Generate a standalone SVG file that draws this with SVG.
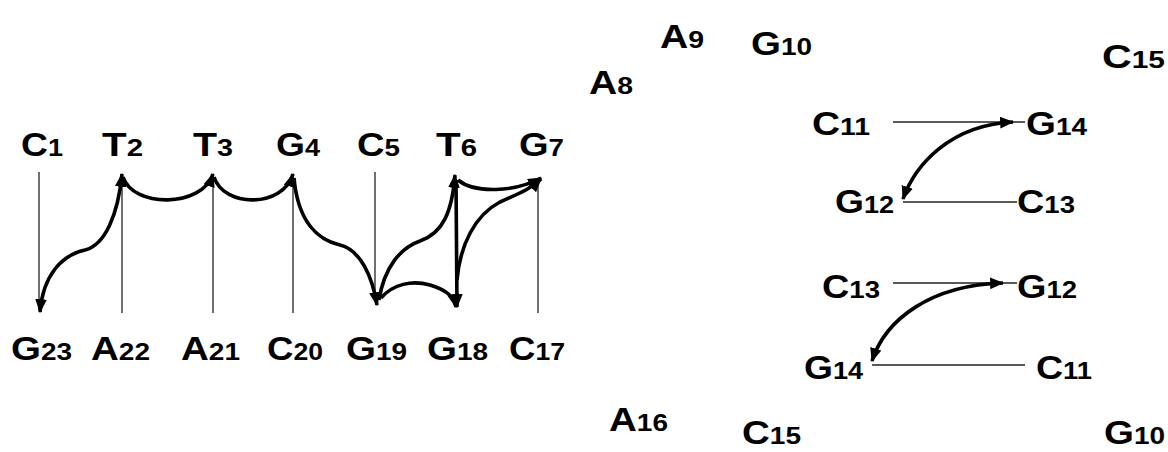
<svg xmlns="http://www.w3.org/2000/svg" width="1168" height="452" viewBox="0 0 1168 452">
<style>
text{font-family:"Liberation Sans",Arial,sans-serif;font-weight:bold;font-size:33px;fill:#000}
.s{font-size:24px}
.thin{fill:none;stroke:#222;stroke-width:1.3}
.thick{fill:none;stroke:#000;stroke-width:3.6}
</style>
<defs>
<marker id="ah" viewBox="0 0 12 10" refX="11" refY="5" markerWidth="14" markerHeight="12" orient="auto-start-reverse" markerUnits="userSpaceOnUse"><path d="M0,0 L12,5 L0,10 z" fill="#000"/></marker>
</defs>
<rect width="1168" height="452" fill="#fff"/>
<g id="connectors">
<line class="thin" x1="39" y1="172" x2="39" y2="310"/>
<line class="thin" x1="122" y1="176" x2="122" y2="313"/>
<line class="thin" x1="213" y1="176" x2="213" y2="313"/>
<line class="thin" x1="293" y1="176" x2="293" y2="313"/>
<line class="thin" x1="375" y1="172" x2="375" y2="300"/>
<line class="thin" x1="538" y1="178" x2="538" y2="313"/>
<path class="thick" marker-start="url(#ah)" marker-end="url(#ah)" d="M40,312 C43,275 62,255 85,250 C105,245 118,215 122,174"/>
<path class="thick" marker-end="url(#ah)" d="M123,177 C133,208 202,208 213,174"/>
<path class="thick" marker-end="url(#ah)" d="M214,177 C224,208 283,208 293,174"/>
<path class="thick" marker-end="url(#ah)" d="M294,178 C298,222 318,240 340,245 C360,250 372,275 377,305"/>
<path class="thick" marker-end="url(#ah)" d="M379,300 C384,268 400,248 420,241 C443,233 452,212 455,175"/>
<path class="thick" marker-end="url(#ah)" d="M381,298 C393,284 412,280 430,285 C443,289 453,294 456,307"/>
<path class="thick" marker-end="url(#ah)" d="M456,180 L457,307"/>
<path class="thick" marker-end="url(#ah)" d="M458,180 C475,194 515,192 541,178"/>
<path class="thick" marker-end="url(#ah)" d="M457,280 C460,245 475,215 500,202 C515,195 530,190 541,179"/>
<line class="thin" x1="893" y1="122" x2="1025" y2="122"/>
<path class="thick" marker-start="url(#ah)" marker-end="url(#ah)" d="M903,199 C915,165 950,125 1013,122"/>
<line class="thin" x1="903" y1="202" x2="1017" y2="202"/>
<line class="thin" x1="893" y1="283" x2="1017" y2="283"/>
<path class="thick" marker-start="url(#ah)" marker-end="url(#ah)" d="M872,361 C885,320 930,285 1003,283"/>
<line class="thin" x1="872" y1="365" x2="1025" y2="365"/>
</g>
<g id="C1"><text x="21" y="156" textLength="42" lengthAdjust="spacingAndGlyphs">C<tspan class="s">1</tspan></text></g>
<g id="T2"><text x="102" y="156" textLength="41" lengthAdjust="spacingAndGlyphs">T<tspan class="s">2</tspan></text></g>
<g id="T3"><text x="193" y="156" textLength="40" lengthAdjust="spacingAndGlyphs">T<tspan class="s">3</tspan></text></g>
<g id="G4"><text x="276" y="156" textLength="44" lengthAdjust="spacingAndGlyphs">G<tspan class="s">4</tspan></text></g>
<g id="C5"><text x="357" y="156" textLength="43" lengthAdjust="spacingAndGlyphs">C<tspan class="s">5</tspan></text></g>
<g id="T6"><text x="436" y="156" textLength="41" lengthAdjust="spacingAndGlyphs">T<tspan class="s">6</tspan></text></g>
<g id="G7"><text x="519" y="156" textLength="45" lengthAdjust="spacingAndGlyphs">G<tspan class="s">7</tspan></text></g>
<g id="G23"><text x="11" y="360" textLength="61" lengthAdjust="spacingAndGlyphs">G<tspan class="s">23</tspan></text></g>
<g id="A22"><text x="91" y="360" textLength="59" lengthAdjust="spacingAndGlyphs">A<tspan class="s">22</tspan></text></g>
<g id="A21"><text x="181" y="360" textLength="59" lengthAdjust="spacingAndGlyphs">A<tspan class="s">21</tspan></text></g>
<g id="C20"><text x="267" y="360" textLength="56" lengthAdjust="spacingAndGlyphs">C<tspan class="s">20</tspan></text></g>
<g id="G19"><text x="346" y="360" textLength="61" lengthAdjust="spacingAndGlyphs">G<tspan class="s">19</tspan></text></g>
<g id="G18"><text x="427" y="360" textLength="61" lengthAdjust="spacingAndGlyphs">G<tspan class="s">18</tspan></text></g>
<g id="C17"><text x="509" y="360" textLength="56" lengthAdjust="spacingAndGlyphs">C<tspan class="s">17</tspan></text></g>
<g id="A9"><text x="660" y="48" textLength="44" lengthAdjust="spacingAndGlyphs">A<tspan class="s">9</tspan></text></g>
<g id="G10-top"><text x="751" y="55" textLength="61" lengthAdjust="spacingAndGlyphs">G<tspan class="s">10</tspan></text></g>
<g id="C15-top"><text x="1102" y="68" textLength="63" lengthAdjust="spacingAndGlyphs">C<tspan class="s">15</tspan></text></g>
<g id="A8"><text x="589" y="94" textLength="44" lengthAdjust="spacingAndGlyphs">A<tspan class="s">8</tspan></text></g>
<g id="C11-a"><text x="812" y="135" textLength="58" lengthAdjust="spacingAndGlyphs">C<tspan class="s">11</tspan></text></g>
<g id="G14-a"><text x="1026" y="135" textLength="61" lengthAdjust="spacingAndGlyphs">G<tspan class="s">14</tspan></text></g>
<g id="G12-a"><text x="835" y="213" textLength="59" lengthAdjust="spacingAndGlyphs">G<tspan class="s">12</tspan></text></g>
<g id="C13-a"><text x="1017" y="213" textLength="58" lengthAdjust="spacingAndGlyphs">C<tspan class="s">13</tspan></text></g>
<g id="C13-b"><text x="822" y="298" textLength="58" lengthAdjust="spacingAndGlyphs">C<tspan class="s">13</tspan></text></g>
<g id="G12-b"><text x="1017" y="298" textLength="60" lengthAdjust="spacingAndGlyphs">G<tspan class="s">12</tspan></text></g>
<g id="G14-b"><text x="804" y="379" textLength="59" lengthAdjust="spacingAndGlyphs">G<tspan class="s">14</tspan></text></g>
<g id="C11-b"><text x="1036" y="379" textLength="56" lengthAdjust="spacingAndGlyphs">C<tspan class="s">11</tspan></text></g>
<g id="A16"><text x="609" y="431" textLength="59" lengthAdjust="spacingAndGlyphs">A<tspan class="s">16</tspan></text></g>
<g id="C15-bottom"><text x="742" y="444" textLength="59" lengthAdjust="spacingAndGlyphs">C<tspan class="s">15</tspan></text></g>
<g id="G10-bottom"><text x="1104" y="444" textLength="61" lengthAdjust="spacingAndGlyphs">G<tspan class="s">10</tspan></text></g>
</svg>
